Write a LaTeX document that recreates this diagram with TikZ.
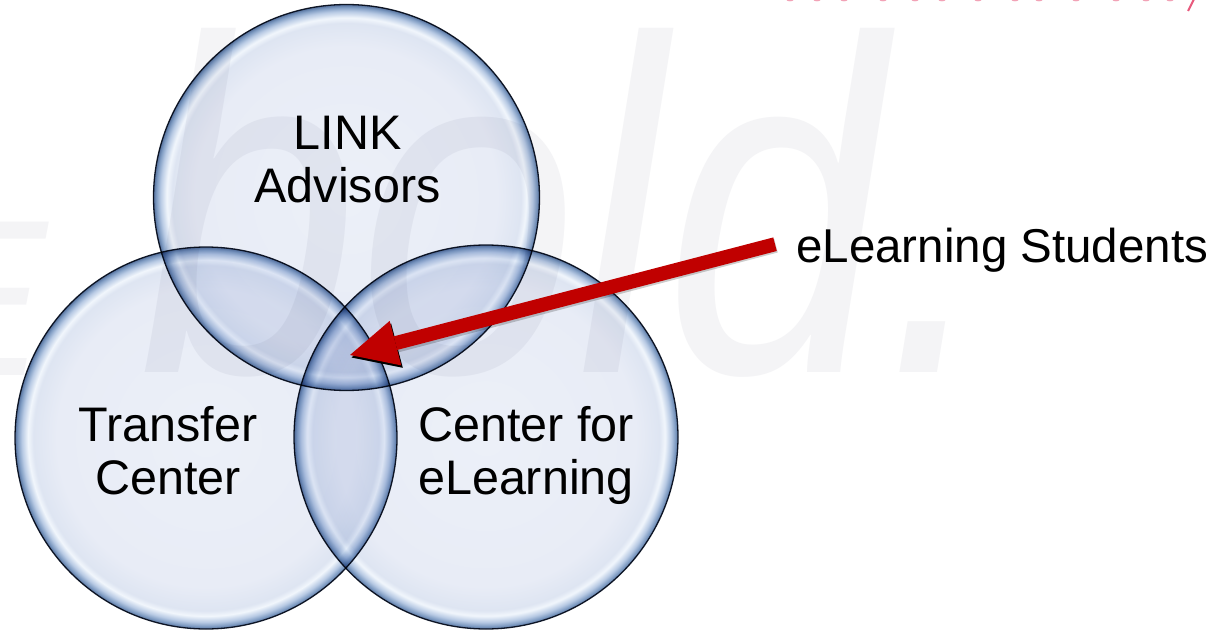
\documentclass[tikz,border=0pt]{standalone}
\usepackage{fontspec}
\setmainfont{Liberation Sans}
\usetikzlibrary{arrows.meta}

\definecolor{wm}{RGB}{244,244,246}
\definecolor{arrowred}{RGB}{192,0,0}
\definecolor{rimline}{RGB}{22,30,46}
\definecolor{topred}{RGB}{226,48,92}
\definecolor{bA}{RGB}{236,240,248}
\definecolor{bB}{RGB}{232,236,246}
\definecolor{bC}{RGB}{222,229,242}
\definecolor{bD}{RGB}{241,246,252}
\definecolor{bE}{RGB}{184,202,228}
\definecolor{bF}{RGB}{126,155,194}
\definecolor{bG}{RGB}{84,112,156}

\pgfdeclareradialshading{bubble}{\pgfpointorigin}{%
  color(0bp)=(bA);
  color(19.5bp)=(bB);
  color(22.6bp)=(bC);
  color(23.3bp)=(bD);
  color(24.1bp)=(bE);
  color(24.65bp)=(bF);
  color(25bp)=(bG);
  color(50bp)=(bG)}

\tikzset{
  bubblenode/.style={circle, inner sep=0pt, outer sep=0pt, minimum size=#1,
    shade, shading=bubble, draw=rimline, line width=1.3pt},
  bigtext/.style={font=\fontsize{48.5}{53}\selectfont, align=center,
    inner sep=0pt, anchor=base, text=black},
  labeltext/.style={font=\fontsize{47.5}{52}\selectfont, inner sep=0pt,
    anchor=base west, text=black},
  wmtext/.style={text=wm, inner sep=0pt},
  redarrow/.style={draw=arrowred, line width=14pt,
    -{Triangle[length=47pt,width=46pt,line width=0pt]}},
  shadowarrow/.style={draw=black, draw opacity=0.2, line width=14pt,
    -{Triangle[length=47pt,width=46pt,line width=0pt]}},
  speck/.style={fill=topred!45}
}

\begin{document}
\begin{tikzpicture}[x=1pt, y=-1pt]
  \useasboundingbox (0,0) rectangle (1226,631);
  \clip (0,0) rectangle (1226,631);
  \fill[white] (0,0) rectangle (1226,631);

  % faint watermark
  \node[wmtext, anchor=base west, xscale=0.83] (wmb) at (139,372)
    {\fontsize{475}{475}\selectfont\itshape bold.};
  \node[wmtext, anchor=base east] (wme) at (47,375)
    {\fontsize{223}{223}\selectfont\itshape E};

  % red fragments of clipped text at the top edge
  \foreach \sx in {790,817,844,883,915,942,978,1015,1039,1076,1116,1146,1170}
    \fill[speck] (\sx,0) ellipse (3.5 and 1.3);
  \draw[topred!80, line width=2pt] (1194,-1) -- (1188,11);

  % Venn circles
  \begin{scope}[blend mode=multiply]
    \node[bubblenode=386pt] (cT) at (346.5,197.5) {};
    \node[bubblenode=382pt] (cL) at (206,438) {};
    \node[bubblenode=384pt] (cR) at (486,437) {};
  \end{scope}

  % texts
  \node[bigtext] (tT) at (347.5,203) {LINK\\Advisors};
  \node[bigtext] (tL) at (168,494) {Transfer\\Center};
  \node[bigtext] (tR) at (526,494) {Center for\\eLearning};
  \node[labeltext] (lbl) at (796,262) {eLearning Students};

  % arrow
  \coordinate (tip) at (350,355);
  \draw[shadowarrow] ([shift={(-20,-4)}]lbl.west) -- ([shift={(1.5,2.5)}]tip);
  \draw[redarrow] ([shift={(-21,-5.5)}]lbl.west) -- (tip);
\end{tikzpicture}
\end{document}
